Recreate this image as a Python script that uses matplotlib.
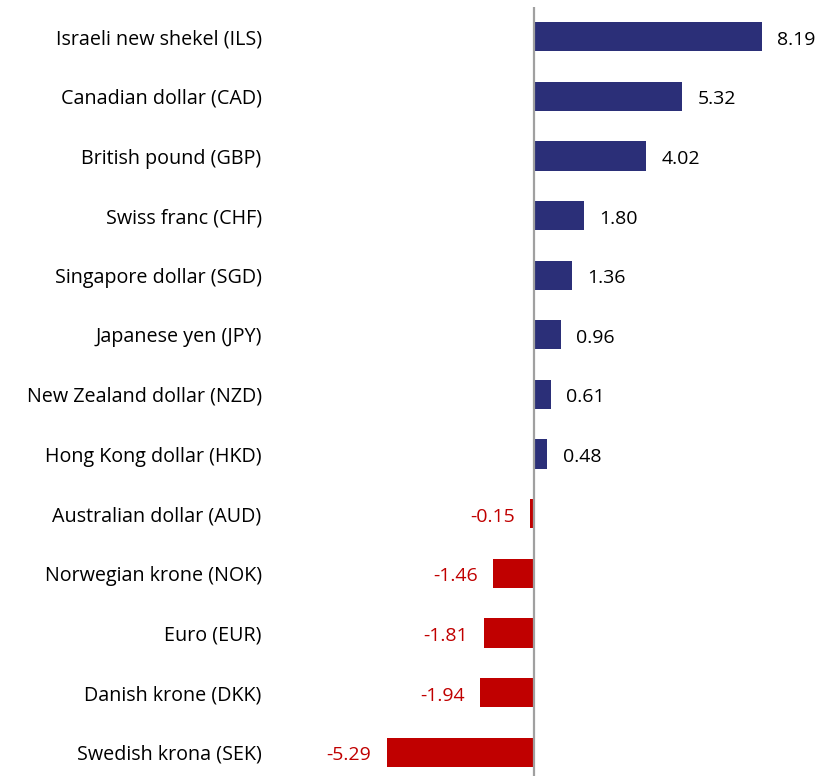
#!/usr/bin/env python3

import matplotlib
matplotlib.use("Agg")
import matplotlib.pyplot as plt

currencies = [
    "Israeli new shekel (ILS)", "Canadian dollar (CAD)", "British pound (GBP)",
    "Swiss franc (CHF)", "Singapore dollar (SGD)", "Japanese yen (JPY)",
    "New Zealand dollar (NZD)", "Hong Kong dollar (HKD)", "Australian dollar (AUD)",
    "Norwegian krone (NOK)", "Euro (EUR)", "Danish krone (DKK)", "Swedish krona (SEK)",
]
changes = [8.19, 5.32, 4.02, 1.80, 1.36, 0.96, 0.61, 0.48, -0.15, -1.46, -1.81, -1.94, -5.29]

BLUE = "#2B2F78"
RED = "#C00000"

plt.rcParams["font.family"] = ["Open Sans", "DejaVu Sans"]

fig = plt.figure(figsize=(8.23, 7.76), dpi=100)
# axes spans from x=270px to the right edge, y from 7px to the bottom
ax = fig.add_axes([270 / 823, 0, 1 - 270 / 823, 1 - 7 / 776])

ypos = list(range(len(currencies)))
colors = [BLUE if v >= 0 else RED for v in changes]
ax.barh(ypos, changes, height=0.49, color=colors)

for y, v, c in zip(ypos, changes, colors):
    if v >= 0:
        ax.annotate(f"{v:.2f}", (v, y + 0.05), xytext=(11, 0), textcoords="offset points",
                    ha="left", va="center", fontsize=14, color="black")
    else:
        ax.annotate(f"{v:.2f}", (v, y + 0.05), xytext=(-11, 0), textcoords="offset points",
                    ha="right", va="center", fontsize=14, color=c)

ax.set_xlim(-9.48, 10.38)
ax.set_ylim(12.40, -0.50)
ax.axvline(0, color="#A0A0A0", linewidth=1.6)

ax.set_yticks(ypos)
ax.set_yticklabels(currencies, fontsize=14.2)
ax.tick_params(axis="y", length=0, pad=6)
ax.set_xticks([])
for s in ax.spines.values():
    s.set_visible(False)

fig.savefig("out.png", dpi=100)
